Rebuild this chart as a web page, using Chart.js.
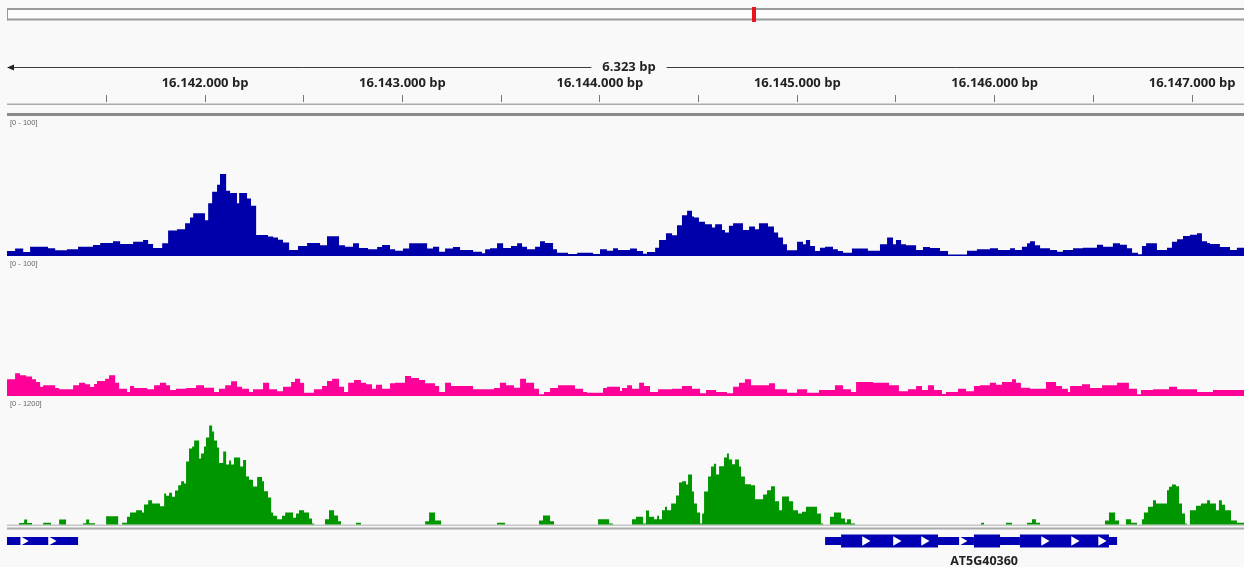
<!DOCTYPE html>
<html>
<head>
<meta charset="utf-8">
<title>AT5G40360 tracks</title>
<script src="https://cdn.jsdelivr.net/npm/chart.js@4.4.1/dist/chart.umd.min.js"></script>
<style>
  html, body { margin: 0; padding: 0; background: #f9f9f9; overflow: hidden; }
  canvas { display: block; }
</style>
</head>
<body>
<canvas id="igv" width="1244" height="567"></canvas>
<script>
// region on chr5, all positions below are bp offsets from regionStart
const regionStart = 16141000;
const viewFrom = -3, viewTo = 6263;
const chromLength = 26975502;
const spanLabel = '6.323 bp';
const rulerTicks = [16141500, 16142000, 16142500, 16143000, 16143500, 16144000,
  16144500, 16145000, 16145500, 16146000, 16146500, 16147000];
const rangeLabels = ['[0 - 100]', '[0 - 100]', '[0 - 1200]'];

// track 1 (blue), bedgraph style: start offset + value
const blueStart = [-3,38,79,114,205,241,301,357,433,469,
  534,570,636,686,712,737,783,813,858,899,
  924,940,1000,1016,1036,1061,1076,1107,1127,1162,
  1173,1213,1233,1259,1319,1345,1370,1395,1426,1471,
  1517,1583,1618,1679,1709,1750,1780,1826,1872,1897,
  1937,1963,2003,2034,2125,2155,2186,2216,2256,2292,
  2358,2403,2419,2444,2479,2510,2550,2581,2606,2631,
  2672,2697,2722,2763,2783,2839,2885,2966,3001,3036,
  3067,3092,3153,3188,3219,3239,3280,3300,3335,3366,
  3391,3416,3442,3467,3477,3502,3533,3568,3584,3619,
  3634,3654,3675,3725,3756,3786,3806,3852,3882,3903,
  3928,3948,3999,4029,4044,4065,4090,4115,4141,4181,
  4206,4232,4277,4358,4419,4455,4485,4500,4526,4551,
  4602,4637,4672,4723,4764,4860,4910,4976,5017,5078,
  5103,5138,5164,5179,5204,5230,5280,5316,5346,5397,
  5447,5518,5549,5599,5635,5670,5696,5726,5746,5767,
  5822,5873,5898,5924,5954,5989,6025,6050,6076,6091,
  6141,6192,6227];
const blueValue = [3.6,5.3,2.9,6.7,5.5,4.1,4.8,6.7,7.9,9.4,
  10.6,8.6,10.3,11.5,8.6,5.8,9.1,18.2,19.2,23.5,
  27.6,30.7,25.7,37.9,46.1,51.1,58.8,46.8,45.1,37.9,
  45.1,41.3,36,15.1,13.9,13.2,11.7,9.6,4.3,7.2,
  9.4,7.7,14.2,7.7,6.7,9.1,5.8,4.8,6.5,7.9,
  4.8,3.8,5.3,9.1,5.3,6.7,3.1,5.3,6.5,4.3,
  3.1,1.9,4.8,5.5,9.1,5.8,7.2,9.1,6.7,4.8,
  6.7,10.6,9.4,4.8,2.4,1.4,2.4,1.4,4.8,3.8,
  5.5,4.3,5.3,3.6,1.7,2.9,6,11.5,16.3,14.9,
  22.1,29.3,32.4,28.3,27.6,24.5,22.8,20.4,22.8,18.7,
  16.8,21.6,23.5,18.7,21.1,19.2,23.5,21.1,16.8,13.2,
  8.4,4.1,10.3,8.4,11.5,7.2,3.6,6,6.7,4.8,
  3.6,2.4,5.3,3.8,8.4,13.2,8.4,11.5,8.4,7.7,
  4.3,6.5,5.8,3.6,1,3.8,4.8,5.5,4.3,5.5,
  4.3,6.7,9.1,10.6,7.7,5.5,4.3,3.1,4.3,5.5,
  6,8.1,6.7,9.1,8.1,5.5,2.4,1.2,7.2,9.1,
  4.3,6,10.3,12,14.4,15.3,16.3,10.6,9.4,8.6,
  6.5,4.3,6];

// track 2 (pink)
const pinkStart = [-3,38,63,94,124,144,165,180,241,261,
  332,362,393,418,438,453,494,514,545,565,
  605,620,641,707,742,772,803,823,853,904,
  955,995,1046,1071,1102,1132,1162,1188,1223,1243,
  1294,1325,1365,1395,1436,1456,1482,1502,1552,1593,
  1618,1644,1679,1704,1725,1755,1790,1816,1846,1866,
  1897,1937,1963,2013,2044,2084,2115,2165,2186,2216,
  2246,2358,2464,2494,2525,2565,2596,2626,2667,2692,
  2717,2748,2788,2874,2915,2935,3016,3036,3102,3112,
  3138,3163,3199,3224,3254,3295,3366,3416,3467,3508,
  3538,3589,3644,3675,3705,3735,3766,3857,3887,3948,
  3999,4050,4110,4191,4232,4272,4298,4384,4465,4515,
  4561,4602,4632,4662,4693,4733,4753,4814,4855,4895,
  4926,4976,5007,5037,5088,5108,5133,5179,5260,5311,
  5341,5371,5382,5442,5483,5544,5620,5680,5721,5741,
  5802,5883,5924,6025,6106];
const pinkValue = [12.1,16.4,15,14,12.1,10.1,6.7,7.8,5.8,4.9,
  7.8,9.6,8.5,6.5,8.7,10.9,12.5,15,9.6,5.3,
  2.9,7.2,5.8,4.9,7.8,9.6,7.8,4.3,5.3,5.8,
  7.8,6,2.9,5.3,7.8,10.6,6.7,5.3,2.9,4.9,
  9.6,4.9,3.4,6.7,10.1,12.5,9.6,2.4,4.9,7.2,
  10.9,12.5,6.7,2.9,9.6,11.6,9.6,8.5,5.3,8.2,
  5.3,9.2,9.6,14.5,13,11.6,9.2,7.2,2.9,9.6,
  7.2,4.9,5.8,9.6,7.8,6,12.5,9.6,5.3,1.2,
  2.9,5.8,7.8,5.3,2.9,2.4,5.8,6.7,3.6,5.8,
  7.8,5.3,9.6,7.2,2.9,4.9,5.3,7.2,5.3,2,
  4.3,2.9,2,6.7,9.6,12.1,7.8,9.2,4.9,2.4,
  4.9,2.4,4.3,7.8,4.9,2.9,10.1,9.6,7.8,3.4,
  4.9,7.2,4.3,7.8,4.3,1.4,2.9,5.3,3.4,7.2,
  7.8,9.6,8.2,10.1,12.1,9.6,6,5.3,10.1,7.2,
  5.3,2.9,7.2,8.5,5.8,7.8,9.6,5.3,1.2,4.3,
  4.9,6.7,4.9,2.9,4.3];

// track 3 (green)
const greenStart = [-3,58,84,99,124,180,220,261,296,382,
  398,413,443,499,560,580,605,620,651,681,
  691,712,732,772,793,803,818,833,848,864,
  879,894,904,919,935,945,970,980,995,1005,
  1021,1036,1046,1061,1071,1092,1107,1122,1132,1147,
  1178,1193,1208,1223,1243,1264,1289,1299,1319,1335,
  1345,1365,1390,1406,1446,1461,1476,1502,1527,1542,
  1552,1608,1628,1654,1674,1689,1765,1790,2115,2135,
  2165,2196,2479,2520,2692,2712,2748,2768,2991,3047,
  3067,3163,3183,3219,3234,3249,3275,3290,3300,3315,
  3330,3340,3361,3386,3401,3416,3437,3447,3467,3477,
  3492,3508,3518,3528,3548,3563,3578,3589,3604,3629,
  3644,3654,3670,3685,3705,3715,3735,3766,3786,3827,
  3847,3867,3887,3908,3923,3958,3979,4004,4024,4044,
  4100,4120,4131,4166,4186,4222,4242,4252,4272,4293,
  4931,4946,5057,5088,5164,5189,5209,5230,5559,5579,
  5610,5630,5665,5691,5721,5746,5756,5777,5802,5817,
  5873,5883,5898,5918,5934,5949,5964,5974,5989,6020,
  6045,6076,6091,6121,6136,6151,6167,6197,6227];
const greenValue = [0,14,47,14,0,16,0,47,0,12,
  47,12,0,78,0,16,73,113,135,113,
  189,230,198,173,293,271,300,262,321,371,
  409,387,595,718,737,794,624,671,737,822,
  936,879,794,728,581,690,567,605,567,633,
  548,610,454,422,359,449,409,315,255,113,
  82,50,82,113,63,104,135,113,57,9,
  0,50,135,85,31,0,16,0,31,113,
  38,0,16,0,38,85,31,0,50,9,
  0,50,73,9,132,73,50,82,50,135,
  167,135,198,274,397,409,378,473,312,198,
  113,9,104,312,454,548,574,473,551,633,
  671,614,570,614,548,454,381,371,239,284,
  324,362,220,135,265,220,135,104,120,167,
  104,9,0,73,113,57,19,50,9,0,
  16,0,16,0,16,50,16,0,38,113,
  38,0,50,16,0,50,113,167,230,198,
  324,356,378,362,198,104,9,0,135,177,
  198,230,198,135,230,186,135,38,16];

// gene track
const geneName = 'AT5G40360';
const geneSpan = [4141, 5620];
const thickParts = [[4222, 4713], [4895, 5027], [5128, 5579]];
const thinParts = [[-3, 357], [4141, 4222], [4713, 4895], [5027, 5128], [5579, 5620]];
const strandMarks = [79, 220, 4343, 4500, 4642, 4834, 5250, 5402, 5539];

const PLOT_TOP = 102, PLOT_BOTTOM = 567, GENE_Y = 541;
const blueCol = '#0000aa', pinkCol = '#ff0099', greenCol = '#009600', geneCol = '#0000b2';

Chart.defaults.font.family = '"Open Sans", sans-serif';

// y axis whose 0..vmax lands on pixel rows base..top
function band(top, base, vmax) {
  const ppu = (base - top) / vmax;
  return { type: 'linear', display: false,
    min: -(PLOT_BOTTOM - base) / ppu, max: vmax + (top - PLOT_TOP) / ppu };
}

function bpLabel(v) {
  return String(v).replace(/\B(?=(\d{3})+(?!\d))/g, '.') + ' bp';
}

function toSteps(starts, values) {
  const pts = starts.map((s, i) => ({ x: regionStart + s, y: values[i] }));
  pts.push({ x: regionStart + viewTo, y: values[values.length - 1] });
  return pts;
}

function toSegments(parts) {
  const pts = [];
  parts.forEach(p => {
    pts.push({ x: regionStart + p[0], y: 0 }, { x: regionStart + p[1], y: 0 }, { x: regionStart + p[1], y: null });
  });
  return pts;
}

const frame = {
  id: 'frame',
  beforeDraw(chart) {
    const ctx = chart.ctx;
    const left = chart.chartArea.left, right = chart.chartArea.right;
    const w = right - left;
    ctx.save();
    ctx.fillStyle = '#f9f9f9';
    ctx.fillRect(0, 0, chart.width, chart.height);

    // chromosome ideogram with current region
    const idW = w + 11;
    ctx.fillStyle = '#fdfdfd';
    ctx.fillRect(left, 9, idW, 11);
    ctx.fillStyle = '#9a9a9a';
    ctx.fillRect(left, 8, idW, 2);
    ctx.fillRect(left, 18.5, idW, 2);
    ctx.fillRect(left, 8, 1, 12.5);
    const mid = regionStart + (viewFrom + viewTo) / 2;
    const mx = left + mid / chromLength * idW;
    ctx.fillStyle = '#e8161c';
    ctx.fillRect(Math.round(mx) - 2, 7, 4, 15);

    // width of the window
    ctx.font = 'bold 13px "Open Sans"';
    ctx.textAlign = 'center';
    ctx.textBaseline = 'middle';
    const cx = 629, cy = 67.5;
    const half = ctx.measureText(spanLabel).width / 2 + 11;
    ctx.strokeStyle = '#3c3c3c';
    ctx.lineWidth = 1;
    ctx.beginPath();
    ctx.moveTo(left + 6, cy); ctx.lineTo(cx - half, cy);
    ctx.moveTo(cx + half, cy); ctx.lineTo(right, cy);
    ctx.stroke();
    ctx.fillStyle = '#222';
    ctx.beginPath();
    ctx.moveTo(left, cy); ctx.lineTo(left + 7, cy - 3); ctx.lineTo(left + 7, cy + 3);
    ctx.closePath(); ctx.fill();
    ctx.fillText(spanLabel, cx, cy);

    // ruler line and header separator
    ctx.fillStyle = '#ababab';
    ctx.fillRect(left, 103.5, w, 1.5);
    ctx.fillStyle = '#8a8a8a';
    ctx.fillRect(left, 113, w, 3);

    // baselines
    const bb = chart.scales.yBlue.getPixelForValue(0);
    const pb = chart.scales.yPink.getPixelForValue(0);
    const gb = chart.scales.yGreen.getPixelForValue(0);
    ctx.fillStyle = blueCol; ctx.fillRect(left, bb - 1, w, 1);
    ctx.fillStyle = pinkCol; ctx.fillRect(left, pb - 1, w, 1);
    ctx.fillStyle = '#c6c6c6'; ctx.fillRect(left, gb, w, 1.5);
    ctx.fillStyle = '#ababab'; ctx.fillRect(left, gb + 3, w, 2);
    ctx.restore();
  },
  afterDraw(chart) {
    const ctx = chart.ctx;
    const left = chart.chartArea.left;
    ctx.save();
    ctx.font = '7.5px "Liberation Sans"';
    ctx.fillStyle = '#666';
    ctx.textAlign = 'left';
    ctx.textBaseline = 'middle';
    const tops = [chart.scales.yBlue.getPixelForValue(100), chart.scales.yPink.getPixelForValue(100),
      chart.scales.yGreen.getPixelForValue(1200)];
    rangeLabels.forEach((t, i) => ctx.fillText(t, left + 3, tops[i] + 6.5));

    const xs = chart.scales.x;
    const gx = xs.getPixelForValue(regionStart + (geneSpan[0] + geneSpan[1]) / 2) + 13;
    ctx.font = 'bold 12.5px "Open Sans"';
    ctx.fillStyle = '#222';
    ctx.textAlign = 'center';
    ctx.fillText(geneName, gx, 561);
    ctx.restore();
  }
};

new Chart(document.getElementById('igv'), {
  type: 'line',
  data: {
    datasets: [
      { label: 'strand', data: strandMarks.map(s => ({ x: regionStart + s, y: 0 })), yAxisID: 'yGene',
        showLine: false, pointStyle: 'triangle', pointRotation: 90, pointRadius: 5.5,
        pointBackgroundColor: '#ffffff', pointBorderWidth: 0, order: 0 },
      { label: 'exon', data: toSegments(thickParts), yAxisID: 'yGene', borderColor: geneCol,
        borderWidth: 13, borderCapStyle: 'butt', pointRadius: 0, order: 1 },
      { label: 'utr', data: toSegments(thinParts), yAxisID: 'yGene', borderColor: geneCol,
        borderWidth: 8, borderCapStyle: 'butt', pointRadius: 0, order: 2 },
      { label: 'green', data: toSteps(greenStart, greenValue), yAxisID: 'yGreen', stepped: 'before',
        fill: 'origin', backgroundColor: greenCol, borderWidth: 0, pointRadius: 0, order: 3 },
      { label: 'pink', data: toSteps(pinkStart, pinkValue), yAxisID: 'yPink', stepped: 'before',
        fill: 'origin', backgroundColor: pinkCol, borderWidth: 0, pointRadius: 0, order: 4 },
      { label: 'blue', data: toSteps(blueStart, blueValue), yAxisID: 'yBlue', stepped: 'before',
        fill: 'origin', backgroundColor: blueCol, borderWidth: 0, pointRadius: 0, order: 5 }
    ]
  },
  options: {
    responsive: false,
    animation: false,
    events: [],
    layout: { autoPadding: false, padding: { left: 7, right: 0, top: 0, bottom: 0 } },
    plugins: { legend: { display: false }, tooltip: { enabled: false } },
    scales: {
      x: {
        type: 'linear', position: 'top',
        min: regionStart + viewFrom, max: regionStart + viewTo,
        afterBuildTicks: s => { s.ticks = rulerTicks.map(v => ({ value: v })); },
        afterFit: s => { s.height = PLOT_TOP; s.paddingLeft = 0; s.paddingRight = 0; },
        ticks: {
          autoSkip: false, maxRotation: 0, padding: 4, color: '#222',
          font: { size: 13, weight: 'bold' },
          callback: v => (v % 1000 === 0 ? bpLabel(v) : '')
        },
        grid: { drawOnChartArea: false, tickLength: 7, tickColor: '#777', tickWidth: 1 },
        border: { display: false }
      },
      y: { display: false },
      yBlue: band(116.5, 256, 100),
      yPink: band(257.5, 396, 100),
      yGreen: band(397.5, 524.5, 1200),
      yGene: { type: 'linear', display: false, min: -(PLOT_BOTTOM - GENE_Y), max: GENE_Y - PLOT_TOP }
    }
  },
  plugins: [frame]
});
</script>
</body>
</html>
